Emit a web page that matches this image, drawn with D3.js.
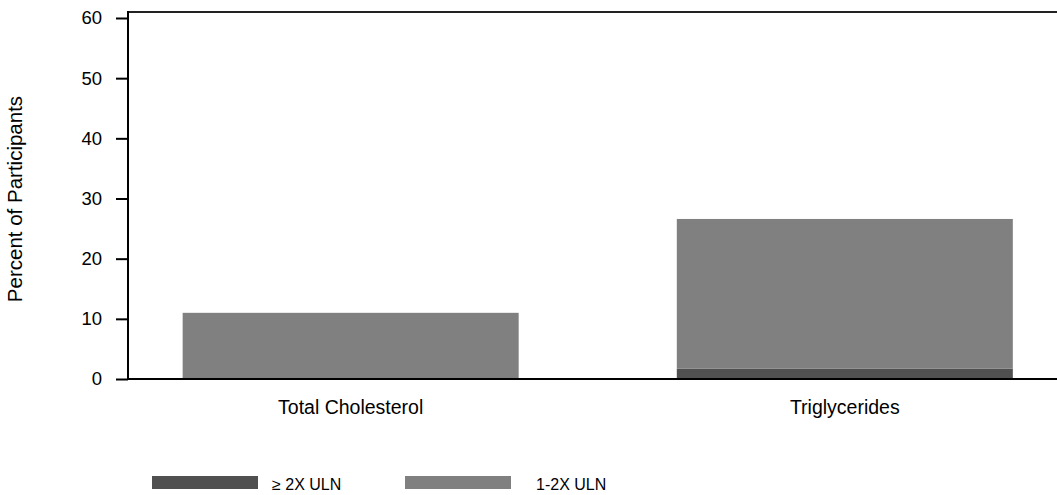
<!DOCTYPE html>
<html>
<head>
<meta charset="utf-8">
<script src="https://cdn.jsdelivr.net/npm/d3@7"></script>
<style>
  html, body { margin: 0; padding: 0; background: #fff; }
  svg { display: block; font-family: "Liberation Sans", Arial, sans-serif; }
</style>
</head>
<body>
<svg id="chart" width="1057" height="495"></svg>
<script>
const categories = ["Total Cholesterol", "Triglycerides"];
const seriesNames = ["\u2265 2X ULN", "1-2X ULN"];
const geq2x = [0, 1.7];
const oneTo2x = [11.0, 24.9];
const yTicks = [0, 10, 20, 30, 40, 50, 60];
const colors = ["#505050", "#808080"];

(function () {
const svg = d3.select("#chart");
const plotLeft = 128, plotRight = 1057, plotTop = 12;

const y = d3.scaleLinear().domain([0, 60]).range([379, 18]);
const x = d3.scaleBand().domain(categories).range([plotLeft, plotRight]).paddingInner(0.32).paddingOuter(0.1).align(0.553);

const rows = categories.map((c, i) => ({ cat: c, a: geq2x[i], b: oneTo2x[i] }));
const stack = d3.stack().keys(["a", "b"])(rows);

svg.append("g").selectAll("g").data(stack).join("g")
  .attr("fill", (d, i) => colors[i])
  .selectAll("rect").data(d => d).join("rect")
  .attr("x", d => x(d.data.cat))
  .attr("width", x.bandwidth())
  .attr("y", d => y(d[1]))
  .attr("height", d => Math.max(0, y(d[0]) - y(d[1])));

// top frame line
svg.append("line").attr("x1", plotLeft).attr("x2", plotRight).attr("y1", plotTop).attr("y2", plotTop)
  .attr("stroke", "#222").attr("stroke-width", 2);

// y axis
const yAxis = svg.append("g").attr("transform", `translate(${plotLeft},0)`)
  .call(d3.axisLeft(y).tickValues(yTicks).tickSize(12).tickPadding(14));
yAxis.select(".domain").remove();
yAxis.selectAll(".tick line").attr("stroke", "#000").attr("stroke-width", 2);
yAxis.selectAll("text").attr("font-size", 18.5).attr("fill", "#000");
svg.append("line").attr("x1", plotLeft).attr("x2", plotLeft).attr("y1", plotTop - 1).attr("y2", y(0) + 1)
  .attr("stroke", "#000").attr("stroke-width", 2);

// x axis baseline
svg.append("line").attr("x1", plotLeft).attr("x2", plotRight).attr("y1", y(0)).attr("y2", y(0))
  .attr("stroke", "#000").attr("stroke-width", 2);

// category labels
svg.append("g").selectAll("text").data(categories).join("text")
  .attr("x", d => x(d) + x.bandwidth() / 2)
  .attr("y", 413.5)
  .attr("text-anchor", "middle")
  .attr("font-size", 19.5)
  .text(d => d);

// y title
svg.append("text")
  .attr("transform", `translate(22,199) rotate(-90)`)
  .attr("text-anchor", "middle")
  .attr("font-size", 20.5)
  .text("Percent of Participants");

// legend
const legX = [152, 405];
const legText = [272, 536];
seriesNames.forEach((n, i) => {
  svg.append("rect").attr("x", legX[i]).attr("y", 476).attr("width", 106).attr("height", 13).attr("fill", colors[i]);
  svg.append("text").attr("x", legText[i]).attr("y", 489.5).attr("font-size", 16).text(n);
});
})();
</script>
</body>
</html>
